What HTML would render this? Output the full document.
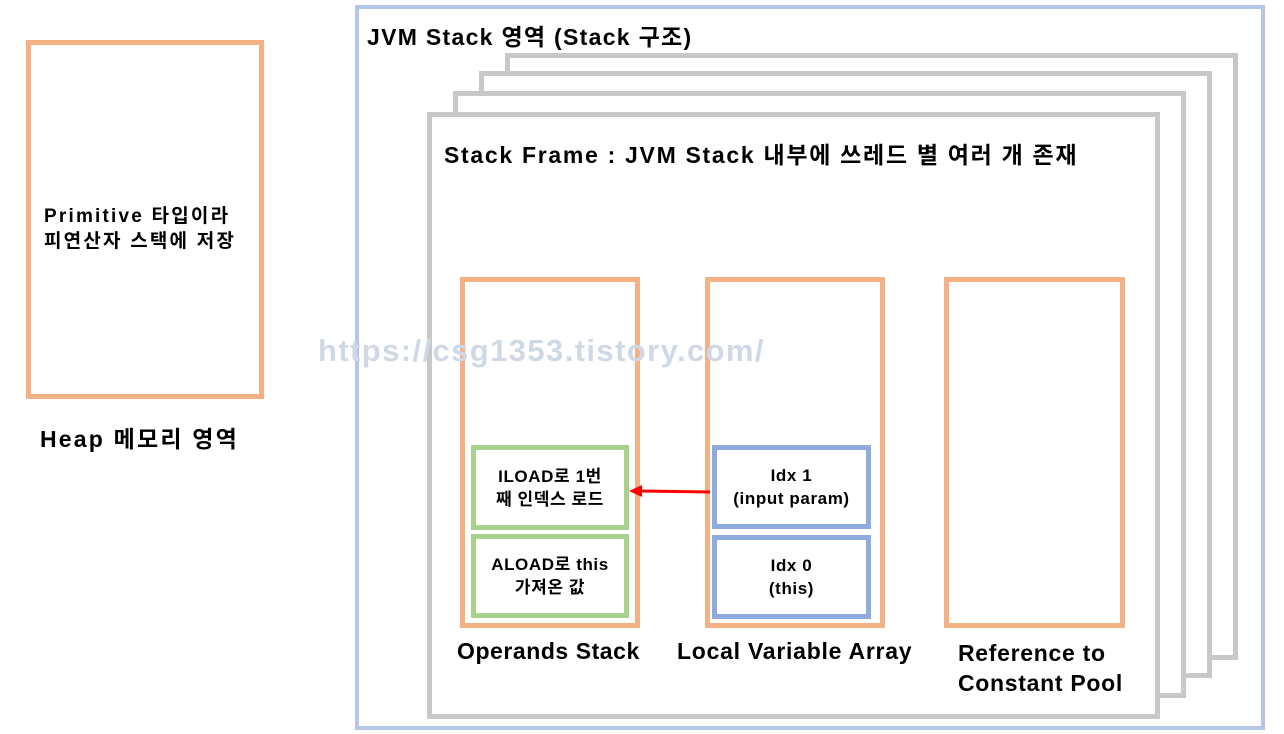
<!DOCTYPE html>
<html><head><meta charset="utf-8"><style>
body{margin:0;width:1284px;height:734px;background:#fff;position:relative;overflow:hidden;font-family:"Liberation Sans","Noto Sans CJK KR",sans-serif;font-weight:bold;color:#000}
div{position:absolute;box-sizing:border-box}
.g{border:5px solid #c8c8c8;background:#fff}
.o{border:5px solid #f4b183;background:#fff}
.gr{border:5px solid #a9d18e;background:#fff;display:flex;align-items:center;justify-content:center;text-align:center;font-size:17px;line-height:23px;letter-spacing:0.6px}
.bl{border:5px solid #8faadc;background:#fff;display:flex;align-items:center;justify-content:center;text-align:center;font-size:17px;line-height:23px;letter-spacing:0.6px}
.t{white-space:nowrap}
</style></head><body>
<div style="left:26px;top:40px;width:238px;height:359px;border:5px solid #f4b183"></div>
<div class="t" style="left:44px;top:204px;font-size:19px;line-height:25px;letter-spacing:2.2px">Primitive 타입이라<br>피연산자 스택에 저장</div>
<div class="t" style="left:40px;top:420px;font-size:23px;letter-spacing:2.2px">Heap 메모리 영역</div>

<div style="left:355px;top:5px;width:910px;height:725px;border:4px solid #b4c7e7"></div>
<div class="t" style="left:367px;top:18px;font-size:23px;letter-spacing:1.3px">JVM Stack 영역 (Stack 구조)</div>

<div class="g" style="left:505px;top:53px;width:733px;height:607px"></div>
<div class="g" style="left:479px;top:71px;width:733px;height:607px"></div>
<div class="g" style="left:453px;top:91px;width:733px;height:607px"></div>
<div class="g" style="left:427px;top:112px;width:733px;height:607px"></div>
<div class="t" style="left:444px;top:136px;font-size:23px;letter-spacing:1.7px">Stack Frame : JVM Stack 내부에 쓰레드 별 여러 개 존재</div>

<div class="o" style="left:460px;top:277px;width:180px;height:351px"></div>
<div class="o" style="left:705px;top:277px;width:180px;height:351px"></div>
<div class="o" style="left:944px;top:277px;width:181px;height:351px"></div>

<div class="t" style="left:318px;top:333px;font-size:31px;color:#cfd8e6;letter-spacing:1.4px">https://csg1353.tistory.com/</div>

<div class="gr" style="left:471px;top:445px;width:158px;height:85px">ILOAD로 1번<br>째 인덱스 로드</div>
<div class="gr" style="left:471px;top:534px;width:158px;height:84px">ALOAD로 this<br>가져온 값</div>
<div class="bl" style="left:712px;top:445px;width:159px;height:84px">Idx 1<br>(input param)</div>
<div class="bl" style="left:712px;top:535px;width:159px;height:84px">Idx 0<br>(this)</div>

<svg style="position:absolute;left:0;top:0" width="1284" height="734">
<line x1="710" y1="492" x2="640" y2="491" stroke="#ff0000" stroke-width="3"/>
<polygon points="629,491 642,485 642,497" fill="#ff0000"/>
</svg>

<div class="t" style="left:457px;top:638px;font-size:23px;letter-spacing:0.55px">Operands Stack</div>
<div class="t" style="left:677px;top:638px;font-size:23px;letter-spacing:0.75px">Local Variable Array</div>
<div class="t" style="left:958px;top:638px;font-size:23px;line-height:30px;letter-spacing:0.7px">Reference to<br>Constant Pool</div>
</body></html>
